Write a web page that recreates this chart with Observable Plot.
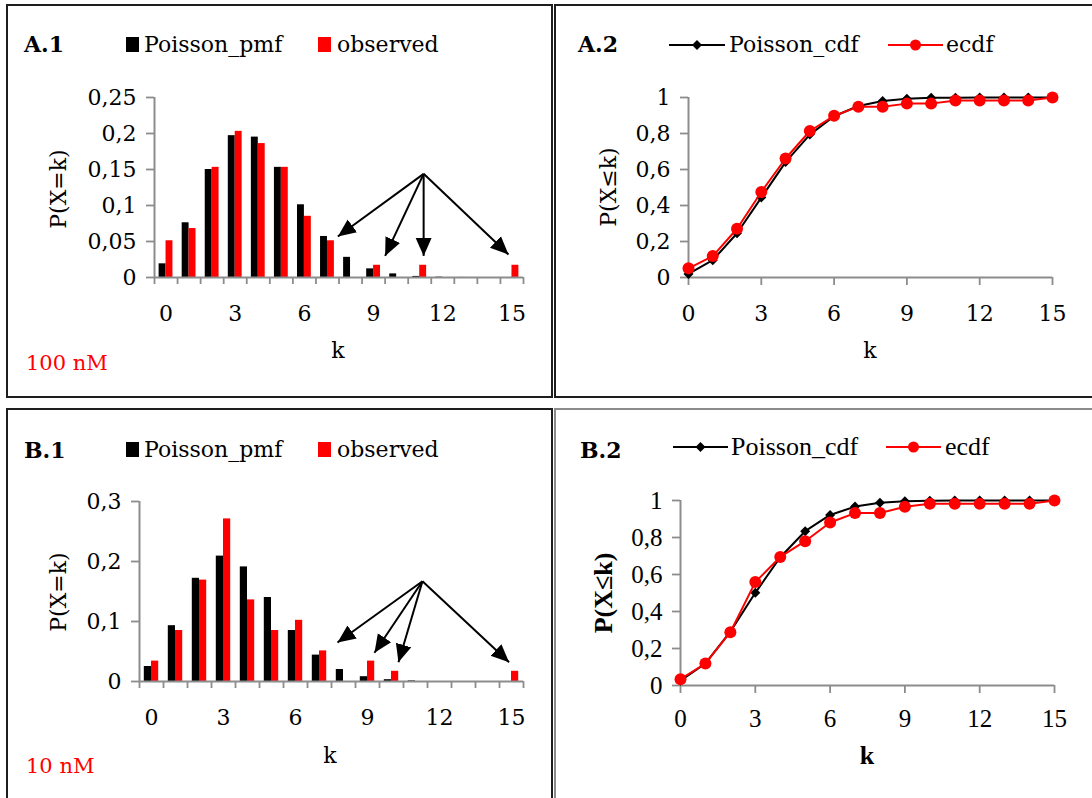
<!DOCTYPE html>
<html>
<head>
<meta charset="utf-8">
<script src="https://cdn.jsdelivr.net/npm/d3@7"></script>
<script src="https://cdn.jsdelivr.net/npm/@observablehq/plot@0.6"></script>
<style>
  body { margin: 0; background: #fff; }
  #page { position: relative; width: 1092px; height: 798px; overflow: hidden; background: #fff; }
  .box { position: absolute; box-sizing: border-box; border: 2px solid #1e1e1e; }
  .t { position: absolute; white-space: nowrap; }
  .plot { position: absolute; }
  svg { overflow: visible; }
</style>
</head>
<body>
<div id="page"></div>
<script>
// ---------- data ----------
const kValues = [0,1,2,3,4,5,6,7,8,9,10,11,12,13,14,15];
const xTickLabels = [0,3,6,9,12,15];

// A: 100 nM
const a1Pmf  = [0.019,0.076,0.150,0.197,0.195,0.153,0.101,0.057,0.028,0.012,0.005,0.0015,0.0005,0.0001,0,0];
const a1Obs  = [0.051,0.068,0.153,0.203,0.186,0.153,0.085,0.051,0,0.017,0,0.017,0,0,0,0.017];
const a2Cdf  = [0.020,0.096,0.246,0.444,0.641,0.794,0.896,0.953,0.981,0.993,0.998,0.999,1,1,1,1];
const a2Ecdf = [0.051,0.119,0.271,0.475,0.661,0.814,0.898,0.949,0.949,0.966,0.966,0.983,0.983,0.983,0.983,1];

// B: 10 nM
const b1Pmf  = [0.025,0.093,0.172,0.209,0.191,0.140,0.085,0.044,0.020,0.008,0.003,0.001,0,0,0,0];
const b1Obs  = [0.034,0.085,0.169,0.271,0.136,0.085,0.102,0.051,0,0.034,0.017,0,0,0,0,0.017];
const b2Cdf  = [0.026,0.119,0.291,0.501,0.693,0.834,0.922,0.967,0.988,0.996,0.999,1,1,1,1,1];
const b2Ecdf = [0.034,0.119,0.288,0.559,0.695,0.780,0.881,0.932,0.932,0.966,0.983,0.983,0.983,0.983,0.983,1];

const a1YTicks  = [0,0.05,0.1,0.15,0.2,0.25];
const b1YTicks  = [0,0.1,0.2,0.3];
const cdfYTicks = [0,0.2,0.4,0.6,0.8,1];

// annotation arrows (data units: k, probability)
const a1Arrows = [
  {x1: 11.17, y1: 0.144, x2: 7.45,  y2: 0.057},
  {x1: 11.17, y1: 0.144, x2: 9.5,   y2: 0.030},
  {x1: 11.17, y1: 0.144, x2: 11.17, y2: 0.030},
  {x1: 11.17, y1: 0.144, x2: 14.85, y2: 0.032}
];
const b1Arrows = [
  {x1: 11.29, y1: 0.167, x2: 7.75,  y2: 0.065},
  {x1: 11.29, y1: 0.167, x2: 9.29,  y2: 0.048},
  {x1: 11.29, y1: 0.167, x2: 10.29, y2: 0.032},
  {x1: 11.29, y1: 0.167, x2: 14.9,  y2: 0.032}
];

// ---------- helpers ----------
const DV = '"DejaVu Serif", serif';
const LS = '"Liberation Serif", serif';
const GRAY = "#8c8c8c";
const RED = "#ff0000";
const fmt = d => String(d).replace(".", ",");
const page = document.getElementById("page");

function triHead(color) {
  const m = d3.create("svg:marker")
    .attr("viewBox", "-18 -9 18 18")
    .attr("markerWidth", 18).attr("markerHeight", 18)
    .attr("markerUnits", "userSpaceOnUse")
    .attr("orient", "auto")
    .attr("fill", color).attr("stroke", "none");
  m.append("path").attr("d", "M-18,-8L0,0L-18,8Z");
  return m.node();
}

function place(node, left, top) {
  const wrap = document.createElement("div");
  wrap.className = "plot";
  wrap.style.left = left + "px";
  wrap.style.top = top + "px";
  wrap.appendChild(node);
  page.appendChild(wrap);
}

function text(str, o) {
  const d = document.createElement("div");
  d.className = "t";
  d.textContent = str;
  const size = o.size || 22;
  d.style.fontFamily = o.family || DV;
  d.style.fontSize = size + "px";
  d.style.lineHeight = size + "px";
  d.style.fontWeight = o.weight || "normal";
  d.style.color = o.color || "#000";
  d.style.top = o.cy + "px";
  if (o.rotate) {
    d.style.left = o.cx + "px";
    d.style.transform = "translate(-50%,-50%) rotate(-90deg)";
  } else if (o.cx !== undefined) {
    d.style.left = o.cx + "px";
    d.style.transform = "translate(-50%,-50%)";
  } else {
    d.style.left = o.left + "px";
    d.style.transform = "translateY(-50%)";
  }
  page.appendChild(d);
}

function box(left, top, w, h, color) {
  const d = document.createElement("div");
  d.className = "box";
  Object.assign(d.style, {left: left + "px", top: top + "px", width: w + "px", height: h + "px"});
  if (color) d.style.borderColor = color;
  page.appendChild(d);
}

function squareSym(left, top, color) {
  const d = document.createElement("div");
  Object.assign(d.style, {position: "absolute", left: left + "px", top: top + "px", width: "13px", height: "15px", background: color});
  page.appendChild(d);
}

function lineSym(left, cy, w, color, kind) {
  const s = d3.create("svg").attr("width", w).attr("height", 16)
    .style("position", "absolute").style("left", left + "px").style("top", (cy - 8) + "px");
  s.append("line").attr("x1", 0).attr("x2", w).attr("y1", 8).attr("y2", 8).attr("stroke", color).attr("stroke-width", 2);
  if (kind === "diamond") {
    s.append("path").attr("d", `M${w/2},3L${w/2+5},8L${w/2},13L${w/2-5},8Z`).attr("fill", color);
  } else {
    s.append("circle").attr("cx", w/2).attr("cy", 8).attr("r", 5.5).attr("fill", color);
  }
  page.appendChild(s.node());
}

function barPanel({pmf, obs, yTicks, yMax, arrows, width, height, ml, mr, mt, mb, family, size}) {
  const rows = kValues.map((k, i) => ({k, pmf: pmf[i], obs: obs[i]}));
  const edges = kValues.concat([kValues.length]).map(k => k - 0.5);
  return Plot.plot({
    width, height, marginLeft: ml, marginRight: mr, marginTop: mt, marginBottom: mb,
    style: {fontFamily: family, fontSize: size + "px", color: "#000", background: "none", overflow: "visible"},
    x: {domain: [-0.5, 15.5]},
    y: {domain: [0, yMax]},
    marks: [
      Plot.rectY(rows, {x1: d => d.k - 0.3, x2: d => d.k, y: "pmf", fill: "#000"}),
      Plot.rectY(rows, {x1: d => d.k, x2: d => d.k + 0.3, y: "obs", fill: RED}),
      Plot.axisY({ticks: yTicks, tickSize: 8, tickPadding: 10, tickFormat: fmt, stroke: GRAY, strokeWidth: 1.8, fill: "#000", label: null}),
      Plot.axisX({ticks: edges, tickSize: 7, tickFormat: () => "", stroke: GRAY, strokeWidth: 1.8, label: null}),
      Plot.axisX({ticks: xTickLabels, tickSize: 0, tickPadding: 28, tickFormat: d => String(d), fill: "#000", label: null}),
      Plot.ruleY([0], {stroke: GRAY, strokeWidth: 2}),
      Plot.ruleX([-0.5], {stroke: GRAY, strokeWidth: 2}),
      Plot.link(arrows, {x1: "x1", y1: "y1", x2: "x2", y2: "y2", stroke: "#000", strokeWidth: 2, markerEnd: triHead})
    ]
  });
}

function cdfPanel({cdf, ecdf, width, height, ml, mr, mt, mb, family, size, tickPad}) {
  const rows = kValues.map((k, i) => ({k, cdf: cdf[i], ecdf: ecdf[i]}));
  return Plot.plot({
    width, height, marginLeft: ml, marginRight: mr, marginTop: mt, marginBottom: mb,
    style: {fontFamily: family, fontSize: size + "px", color: "#000", background: "none", overflow: "visible"},
    x: {domain: [0, 15]},
    y: {domain: [0, 1]},
    marks: [
      Plot.axisY({ticks: cdfYTicks, tickSize: 8, tickPadding: 10, tickFormat: fmt, stroke: GRAY, strokeWidth: 1.8, fill: "#000", label: null}),
      Plot.axisX({ticks: xTickLabels, tickSize: 8, tickPadding: tickPad, tickFormat: d => String(d), stroke: GRAY, strokeWidth: 1.8, fill: "#000", label: null}),
      Plot.ruleY([0], {stroke: GRAY, strokeWidth: 2}),
      Plot.ruleX([0], {stroke: GRAY, strokeWidth: 2}),
      Plot.line(rows, {x: "k", y: "cdf", stroke: "#000", strokeWidth: 2}),
      Plot.dot(rows, {x: "k", y: "cdf", symbol: "diamond2", r: 4.5, fill: "#000", stroke: "none"}),
      Plot.line(rows, {x: "k", y: "ecdf", stroke: RED, strokeWidth: 2}),
      Plot.dot(rows, {x: "k", y: "ecdf", r: 6, fill: RED, stroke: "none"})
    ]
  });
}

// ---------- panel borders ----------
box(6, 4, 547, 394, "#1e1e1e");
box(554, 4, 560, 394, "#1e1e1e");
box(6, 408, 547, 420, "#1e1e1e");
box(554, 408, 560, 420, "#8c8c8c");

// ---------- A.1 ----------
place(barPanel({pmf: a1Pmf, obs: a1Obs, yTicks: a1YTicks, yMax: 0.25, arrows: a1Arrows,
  width: 550, height: 400, ml: 154, mr: 27, mt: 97, mb: 123, family: DV, size: 22}), 0, 0);
text("A.1", {left: 24, cy: 44, weight: "bold"});
squareSym(126, 37, "#000");
text("Poisson_pmf", {left: 144, cy: 45});
squareSym(318, 37, RED);
text("observed", {left: 337, cy: 45});
text("P(X=k)", {cx: 59, cy: 189, rotate: true});
text("k", {cx: 338, cy: 351});
text("100 nM", {left: 26, cy: 363, color: RED, size: 21});

// ---------- A.2 ----------
place(cdfPanel({cdf: a2Cdf, ecdf: a2Ecdf, width: 537, height: 400, ml: 133, mr: 40, mt: 97, mb: 123,
  family: DV, size: 22, tickPad: 20}), 555, 0);
text("A.2", {left: 578, cy: 44, weight: "bold"});
lineSym(669, 45, 56, "#000", "diamond");
text("Poisson_cdf", {left: 729, cy: 45});
lineSym(888, 45, 55, RED, "circle");
text("ecdf", {left: 946, cy: 45});
text("P(X≤k)", {cx: 609, cy: 187, rotate: true});
text("k", {cx: 870, cy: 351});

// ---------- B.1 ----------
place(barPanel({pmf: b1Pmf, obs: b1Obs, yTicks: b1YTicks, yMax: 0.3, arrows: b1Arrows,
  width: 550, height: 398, ml: 139, mr: 27, mt: 101, mb: 117, family: DV, size: 22}), 0, 400);
text("B.1", {left: 24, cy: 450, weight: "bold"});
squareSym(126, 442, "#000");
text("Poisson_pmf", {left: 144, cy: 450});
squareSym(318, 442, RED);
text("observed", {left: 337, cy: 450});
text("P(X=k)", {cx: 59, cy: 592, rotate: true});
text("k", {cx: 330, cy: 756});
text("10 nM", {left: 26, cy: 766, color: RED, size: 21});

// ---------- B.2 ----------
place(cdfPanel({cdf: b2Cdf, ecdf: b2Ecdf, width: 537, height: 398, ml: 125, mr: 38, mt: 100, mb: 113,
  family: LS, size: 25, tickPad: 16}), 555, 400);
text("B.2", {left: 580, cy: 450, weight: "bold"});
lineSym(673, 447, 55, "#000", "diamond");
text("Poisson_cdf", {left: 731, cy: 447, family: LS, size: 26});
lineSym(886, 447, 55, RED, "circle");
text("ecdf", {left: 945, cy: 447, family: LS, size: 26});
text("P(X≤k)", {cx: 604, cy: 593, rotate: true, family: LS, size: 26, weight: "bold"});
text("k", {cx: 867, cy: 756, family: LS, size: 26, weight: "bold"});
</script>
</body>
</html>
